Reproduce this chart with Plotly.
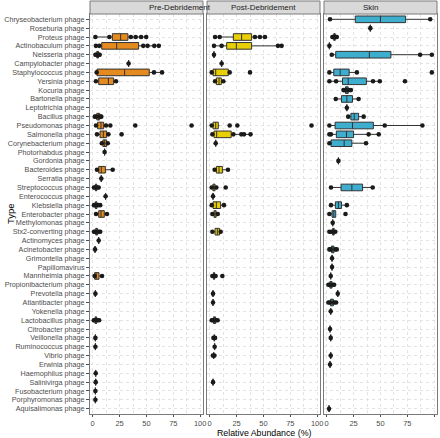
import plotly.graph_objects as go

TYPES = [
    "Chryseobacterium phage", "Roseburia phage", "Proteus phage", "Actinobaculum phage",
    "Neisseria phage", "Campylobacter phage", "Staphylococcus phage", "Yersinia phage",
    "Kocuria phage", "Bartonella phage", "Leptotrichia phage", "Bacillus phage",
    "Pseudomonas phage", "Salmonella phage", "Corynebacterium phage", "Photorhabdus phage",
    "Gordonia phage", "Bacteroides phage", "Serratia phage", "Streptococcus phage",
    "Enterococcus phage", "Klebsiella phage", "Enterobacter phage", "Methylomonas phage",
    "Stx2-converting phage", "Actinomyces phage", "Acinetobacter phage", "Grimontella phage",
    "Papillomavirus", "Mannheimia phage", "Propionibacterium phage", "Prevotella phage",
    "Atlantibacter phage", "Yokenella phage", "Lactobacillus phage", "Citrobacter phage",
    "Veillonella phage", "Ruminococcus phage", "Vibrio phage", "Erwinia phage",
    "Haemophilus phage", "Salinivirga phage", "Fusobacterium phage", "Porphyromonas phage",
    "Aquisalimonas phage",
]
PANELS = ["Pre-Debridement", "Post-Debridement", "Skin"]
COLORS = ["#E58A1F", "#E9CF06", "#3DAECE"]
X_TICKS = [0, 25, 50, 75, 100]

# ---- Pre-Debridement ----
PRE_TYPES = ["Proteus phage", "Actinobaculum phage", "Neisseria phage", "Campylobacter phage",
             "Staphylococcus phage", "Yersinia phage", "Bacillus phage", "Pseudomonas phage",
             "Salmonella phage", "Corynebacterium phage", "Photorhabdus phage", "Bacteroides phage",
             "Serratia phage", "Streptococcus phage", "Enterococcus phage", "Klebsiella phage",
             "Enterobacter phage", "Stx2-converting phage", "Actinomyces phage", "Acinetobacter phage",
             "Mannheimia phage", "Prevotella phage", "Lactobacillus phage", "Veillonella phage",
             "Ruminococcus phage", "Haemophilus phage", "Salinivirga phage", "Fusobacterium phage",
             "Porphyromonas phage"]
PRE_LO = [2.5, 3, 2.5, 33.4, 3.7, 3, 2, 3.1, 4, 8.5, 11.1, 4, 8, 1.2, 12, 1.2, 3.1, 1.2, 5.6, 2.2,
          1.8, 2.5, 1, 2.5, 2.5, 2.8, 2.8, 2.5, 2.5]
PRE_Q1 = [18.3, 8.4, 3.8, 33.4, 4, 5.6, 3.8, 4.6, 6.8, 9.5, 11.1, 5.6, 8, 2.5, 12, 2.4, 5.6, 2.8, 5.6, 2.2,
          1.8, 2.5, 2.2, 2.5, 2.5, 2.8, 2.8, 2.5, 2.5]
PRE_MED = [26, 22.3, 4.6, 33.4, 29.7, 14.6, 5.3, 7.7, 9.9, 11.1, 11.1, 8, 8, 3.1, 12, 3.1, 7.7, 3.7, 5.6, 2.2,
           3.2, 2.5, 3, 2.5, 2.5, 2.8, 2.8, 2.5, 2.5]
PRE_Q3 = [32.8, 42.7, 5.4, 33.4, 52.6, 19.5, 6.5, 10.2, 13, 13, 11.1, 11.8, 8, 3.8, 12, 4, 10.8, 4.6, 5.6, 2.2,
          5.9, 2.5, 3.8, 2.5, 2.5, 2.8, 2.8, 2.5, 2.5]
PRE_HI = [49.8, 61.5, 6.5, 33.4, 64.5, 21.7, 8, 12.4, 14.6, 14, 11.1, 18.6, 8, 5.6, 12, 7, 13.3, 7, 5.6, 2.2,
          8.7, 2.5, 6, 2.5, 2.5, 2.8, 2.8, 2.5, 2.5]
PRE_PTS = [[2.5, 15.5, 35.5, 40, 45, 49.8], [3, 6.2, 47, 51, 57.3, 61.5], [2.5, 3.4, 5.8, 6.5], [33.4],
           [3.7, 57, 64.5], [3, 21.7], [2, 3.2, 7, 8], [3.1, 12.4, 16.4, 39.6, 92],
           [4, 14.6, 26.9], [8.5, 14], [11.1], [4, 18.6],
           [8], [1.2, 2.2, 4.5, 5.6], [12], [1.2, 2.2, 5, 7],
           [3.1, 13.3], [1.2, 2.2, 5.5, 7], [5.6], [2.2],
           [1.8, 8.7], [2.5], [1, 2, 4.5, 6], [2.5],
           [2.5], [2.8], [2.8], [2.5], [2.5]]

# ---- Post-Debridement ----
POST_TYPES = ["Proteus phage", "Actinobaculum phage", "Neisseria phage", "Campylobacter phage",
              "Staphylococcus phage", "Yersinia phage", "Pseudomonas phage", "Salmonella phage",
              "Corynebacterium phage", "Bacteroides phage", "Streptococcus phage", "Enterococcus phage",
              "Klebsiella phage", "Enterobacter phage", "Stx2-converting phage", "Mannheimia phage",
              "Prevotella phage", "Atlantibacter phage", "Lactobacillus phage", "Veillonella phage",
              "Ruminococcus phage", "Vibrio phage", "Salinivirga phage"]
POST_LO = [5, 4, 4, 11.1, 1.9, 5, 1.9, 2.5, 5.6, 4.6, 1.9, 3.1, 1.9, 2.5, 2.5, 2.5, 3.1, 3.1, 1.9, 4.3, 4.6, 3.7, 3.1]
POST_Q1 = [22, 15.8, 4, 11.1, 3.1, 6.2, 3.1, 4, 5.6, 6.2, 3, 3.1, 3.1, 4, 5, 3.5, 3.1, 3.1, 3.5, 4.3, 4.6, 3.7, 3.1]
POST_MED = [29.7, 24.8, 4, 11.1, 5.6, 8.7, 5.6, 6.5, 5.6, 8.7, 4, 3.1, 6.2, 5, 7.1, 4, 3.1, 3.1, 4.6, 4.3, 4.6, 3.7, 3.1]
POST_Q3 = [39, 39, 4, 11.1, 17.3, 10.8, 8, 20, 5.6, 11.8, 5, 3.1, 10.2, 6, 9.3, 4.6, 3.1, 3.1, 5.5, 4.3, 4.6, 3.7, 3.1]
POST_HI = [51.4, 66.9, 4, 11.1, 18.6, 12.7, 9, 38, 5.6, 17, 6.2, 3.1, 13.3, 7.5, 10.2, 5.5, 3.1, 3.1, 7.4, 4.3, 4.6, 3.7, 3.1]
POST_PTS = [[5, 9.3, 42.1, 46.7, 51.4], [4, 11.1, 63.5, 66.9], [4], [11.1],
            [1.9, 18.6, 37.5], [5, 12.7], [1.9, 18.6, 25.7, 94.7], [2.5, 22, 29.4, 31.9, 38],
            [5.6], [4.6, 17], [1.9, 6.2, 14.9], [3.1],
            [1.9, 13.3], [2.5, 7.5], [2.5, 10.2], [2.5, 5.5, 11.8],
            [3.1], [3.1], [1.9, 3, 6, 7.4], [3.5, 5],
            [4.6], [3, 4.4], [3.1]]

# ---- Skin ----
SKIN_TYPES = ["Chryseobacterium phage", "Roseburia phage", "Proteus phage", "Actinobaculum phage",
              "Neisseria phage", "Staphylococcus phage", "Yersinia phage", "Kocuria phage",
              "Bartonella phage", "Leptotrichia phage", "Bacillus phage", "Pseudomonas phage",
              "Salmonella phage", "Corynebacterium phage", "Gordonia phage", "Streptococcus phage",
              "Klebsiella phage", "Enterobacter phage", "Methylomonas phage", "Stx2-converting phage",
              "Acinetobacter phage", "Grimontella phage", "Papillomavirus", "Mannheimia phage",
              "Propionibacterium phage", "Prevotella phage", "Atlantibacter phage", "Yokenella phage",
              "Citrobacter phage", "Veillonella phage", "Vibrio phage", "Erwinia phage",
              "Aquisalimonas phage"]
SKIN_LO = [3.1, 40.6, 5.3, 2.5, 4.7, 2.5, 2.5, 15.6, 8.4, 18.75, 20, 2.5, 2.5, 2.5, 10.9, 4, 4, 2.5, 5.6, 4.5,
           2.5, 5, 5, 3.75, 1.6, 10.3, 1.6, 3.75, 3.1, 3.75, 3.75, 3.1, 2.2]
SKIN_Q1 = [26.6, 40.6, 6.5, 2.5, 8.4, 6.6, 14.7, 17.5, 13.75, 18.75, 22.5, 7.8, 9, 4, 10.9, 13.4, 8.1, 5, 5.6, 5.5,
           4.5, 5, 5, 3.75, 3, 10.3, 3.5, 3.75, 3.1, 3.75, 3.75, 3.1, 2.2]
SKIN_MED = [50, 40.6, 7.2, 2.5, 39.7, 12.5, 20, 18.75, 18.75, 18.75, 25.6, 24, 18.4, 16.25, 10.9, 23.4, 10.9, 6.6, 5.6, 6.25,
            5.6, 5, 5, 3.75, 4, 10.3, 5, 3.75, 3.1, 3.75, 3.75, 3.1, 2.2]
SKIN_Q3 = [73.4, 40.6, 8, 2.5, 59.7, 20.9, 36.9, 20, 24, 18.75, 29.7, 43.4, 25, 23.4, 10.9, 33.4, 13.75, 8.4, 5.6, 7,
           6.8, 5, 5, 3.75, 5, 10.3, 6.2, 3.75, 3.1, 3.75, 3.75, 3.1, 2.2]
SKIN_HI = [96.3, 40.6, 9.4, 2.5, 97.8, 28.1, 49.4, 22.5, 29.7, 18.75, 34.4, 89, 48.4, 36.6, 10.9, 42.8, 18.75, 8.4, 5.6, 8,
           9.4, 5, 5, 3.75, 6.9, 10.3, 8.75, 3.75, 3.1, 3.75, 3.75, 3.1, 2.2]
SKIN_PTS = [[3.1, 96.3], [40.6], [5.3, 6, 8.6, 9.4], [2.5],
            [4.7, 86.9, 97.8], [2.5, 28.1, 97.8], [2.5, 8.75, 43.1, 49.4, 72.8], [15.6, 17, 20.5, 22.5],
            [8.4, 29.7], [18.75], [20, 34.4], [2.5, 54, 89],
            [2.5, 4, 39, 48.4], [2.5, 36.6], [10.9], [4, 42.8],
            [4, 18.75], [2.5, 17.5], [5.6], [2.5, 4.5, 8],
            [2.5, 3.5, 8, 9.4], [5], [5], [3.75],
            [1.6, 2.8, 5.5, 6.9], [10.3], [1.6, 3, 7, 8.75], [3.75],
            [3.1], [3.75], [3.75], [3.1],
            [2.2]]

DATA = [
    (PRE_TYPES, PRE_LO, PRE_Q1, PRE_MED, PRE_Q3, PRE_HI, PRE_PTS),
    (POST_TYPES, POST_LO, POST_Q1, POST_MED, POST_Q3, POST_HI, POST_PTS),
    (SKIN_TYPES, SKIN_LO, SKIN_Q1, SKIN_MED, SKIN_Q3, SKIN_HI, SKIN_PTS),
]

# ---- layout geometry (pixels) ----
W, H = 440, 438
ML, MR, MT, MB = 90, 3, 14, 24
PW = W - ML - MR
PH = H - MT - MB
PANEL_PX = [(0, 113), (117, 230), (234, 347)]
BORDER = "#7A7A7A"
GRID = "#E3E3E3"
FONT = "Liberation Sans, Arial, sans-serif"

fig = go.Figure()
for i, (types, lo, q1, med, q3, hi, pts) in enumerate(DATA):
    xa = "x" if i == 0 else f"x{i+1}"
    ya = "y" if i == 0 else f"y{i+1}"
    fig.add_trace(go.Box(
        y=types, q1=q1, median=med, q3=q3, lowerfence=lo, upperfence=hi,
        orientation="h", fillcolor=COLORS[i], line=dict(color="#333333", width=1),
        whiskerwidth=0, width=0.75, boxpoints=False, xaxis=xa, yaxis=ya,
        showlegend=False, hoverinfo="skip",
    ))
    px, py = [], []
    for t, vals in zip(types, pts):
        for v in vals:
            px.append(v)
            py.append(t)
    fig.add_trace(go.Scatter(
        x=px, y=py, mode="markers", marker=dict(color="#1A1A1A", size=4.6),
        xaxis=xa, yaxis=ya, showlegend=False, hoverinfo="skip",
    ))

layout = dict(
    width=W, height=H, margin=dict(l=ML, r=MR, t=MT, b=MB, autoexpand=False),
    paper_bgcolor="white", plot_bgcolor="white", boxmode="overlay",
    font=dict(family=FONT, color="#4D4D4D", size=7),
)
shapes, annotations = [], []
strip_top = 1 + (MT - 1) / PH
for i in range(3):
    d0, d1 = PANEL_PX[i][0] / PW, PANEL_PX[i][1] / PW
    key = "xaxis" if i == 0 else f"xaxis{i+1}"
    ykey = "yaxis" if i == 0 else f"yaxis{i+1}"
    layout[key] = dict(
        domain=[d0, d1], range=[-2.5, 102.6], anchor="y" if i == 0 else f"y{i+1}",
        tickvals=X_TICKS, ticktext=[str(v) for v in X_TICKS],
        ticks="outside", ticklen=2, tickcolor="#4D4D4D", tickfont=dict(size=7.5, color="#4D4D4D"),
        showgrid=True, gridcolor=GRID, griddash="dot", gridwidth=1,
        minor=dict(tickvals=[12.5, 37.5, 62.5, 87.5], showgrid=True, gridcolor=GRID,
                   griddash="dot", gridwidth=0.6, ticks=""),
        showline=True, linecolor=BORDER, linewidth=1, mirror=True, zeroline=False,
        fixedrange=True, automargin=False,
    )
    layout[ykey] = dict(
        type="category", categoryorder="array", categoryarray=TYPES,
        tickmode="array", tickvals=TYPES, ticktext=TYPES,
        range=[len(TYPES) - 1 + 0.6, -0.6],
        anchor="x" if i == 0 else f"x{i+1}",
        showticklabels=(i == 0), ticks="outside" if i == 0 else "", ticklen=3,
        tickcolor="#4D4D4D", tickfont=dict(size=7.2, color="#4D4D4D"),
        showgrid=True, gridcolor=GRID, griddash="dot", gridwidth=1,
        showline=True, linecolor=BORDER, linewidth=1, mirror=True, zeroline=False,
        fixedrange=True, automargin=False,
    )
    if i > 0:
        layout[ykey]["matches"] = "y"
    shapes.append(dict(type="rect", xref="paper", yref="paper", x0=d0, x1=d1, y0=1, y1=strip_top,
                       fillcolor="#D9D9D9", line=dict(color=BORDER, width=1)))
    annotations.append(dict(text=PANELS[i], xref="paper", yref="paper", x=(d0 + d1) / 2,
                            y=(1 + strip_top) / 2, showarrow=False, yanchor="middle",
                            font=dict(size=8, color="#1A1A1A")))

annotations.append(dict(text="Relative Abundance (%)", xref="paper", yref="paper",
                        x=0.5, y=-(438 - (H - MB)) / PH,
                        showarrow=False, yanchor="bottom", yshift=-2,
                        font=dict(size=8.8, color="#000000")))
annotations.append(dict(text="Type", xref="paper", yref="paper",
                        x=-(ML - 10) / PW, y=0.5, textangle=-90, showarrow=False,
                        xanchor="center", yanchor="middle", font=dict(size=9.5, color="#000000")))
layout["shapes"] = shapes
layout["annotations"] = annotations
fig.update_layout(**layout)
fig.write_html("out.html", config={"displayModeBar": False},
               post_script="document.body.style.margin='0';document.body.style.overflow='hidden';")
